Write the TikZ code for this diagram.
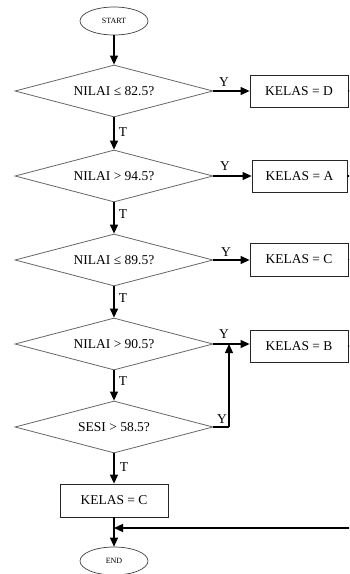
\documentclass[tikz,border=0pt]{standalone}
\usepackage{fontspec}
\setmainfont{Liberation Serif}
\usetikzlibrary{shapes.geometric,arrows.meta}
\begin{document}
\begin{tikzpicture}[x=1pt,y=-1pt,
  every node/.style={font=\fontsize{13.5}{15}\selectfont},
  term/.style={ellipse,draw=black!75,line width=0.7pt,minimum width=68pt,minimum height=28pt,inner sep=0pt,font=\fontsize{8}{9}\selectfont},
  dec/.style={diamond,shape aspect=3.8,draw=black!60,line width=0.8pt,minimum width=198pt,minimum height=52pt,inner sep=0pt},
  proc/.style={rectangle,draw=black!85,line width=0.8pt,minimum width=98pt,minimum height=32pt,inner sep=0pt},
  lbl/.style={inner sep=0pt},
  arr/.style={-{Triangle[length=9pt,width=8pt]},line width=1.1pt,black},
  ln/.style={line width=1.1pt,black}]
\useasboundingbox (0,0) rectangle (349,574);
\clip (0,0) rectangle (349,574);
\node[term] (start) at (114,21) {START};
\node[dec] (d1) at (114,91) {NILAI ≤ 82.5?};
\node[dec] (d2) at (114,176) {NILAI > 94.5?};
\node[dec] (d3) at (114,260) {NILAI ≤ 89.5?};
\node[dec] (d4) at (114,344) {NILAI > 90.5?};
\node[dec] (d5) at (114,427) {SESI > 58.5?};
\node[proc] (bD) at (299,91) {KELAS = D};
\node[proc,minimum width=95pt] (bA) at (299.5,176) {KELAS = A};
\node[proc,minimum height=33pt] (bC) at (299,259.5) {KELAS = C};
\node[proc] (bB) at (299,346) {KELAS = B};
\node[proc,minimum width=108pt,minimum height=33pt] (bF) at (114,500.5) {KELAS = C};
\node[term] (end) at (114,561) {END};
% labels
\node[lbl] (y1) at (224,82) {Y};
\node[lbl] (y2) at (225,166) {Y};
\node[lbl] (y3) at (226,252) {Y};
\node[lbl] (y4) at (224,334) {Y};
\node[lbl] (y5) at (222,419) {Y};
\node[lbl] (t1) at (123,132) {T};
\node[lbl] (t2) at (123,214) {T};
\node[lbl] (t3) at (123,298) {T};
\node[lbl] (t4) at (123,381) {T};
\node[lbl] (t5) at (124,467) {T};
% coordinates
\coordinate (j5) at (229,427);
\coordinate (j4) at (229,344);
\coordinate (rD) at (355,91);
\coordinate (rA) at (355,176);
\coordinate (rC) at (355,259.5);
\coordinate (rB) at (355,346);
\coordinate (rin) at (355,528);
\coordinate (mid) at (114,528);
% connectors
\draw[arr] (start) -- (d1);
\draw[arr] (d1) -- (d2);
\draw[arr] (d2) -- (d3);
\draw[arr] (d3) -- (d4);
\draw[arr] (d4) -- (d5);
\draw[arr] (d5) -- (bF);
\draw[arr] (bF) -- (end);
\draw[arr] (d1.east) -- (bD.west);
\draw[arr] (d2.east) -- (d2.east -| bA.west);
\draw[arr] (d3.east) -- (d3.east -| bC.west);
\draw[arr] (d4.east) -- (d4.east -| bB.west);
\draw[ln] (d5.east) -- (j5);
\draw[arr] (j5) -- (j4);
\draw[arr] (rin) -- (mid);
\draw[ln] (bD.east) -- (rD);
\draw[ln] (bA.east) -- (rA);
\draw[ln] (bC.east) -- (rC);
\draw[ln] (bB.east) -- (rB);
\end{tikzpicture}
\end{document}
